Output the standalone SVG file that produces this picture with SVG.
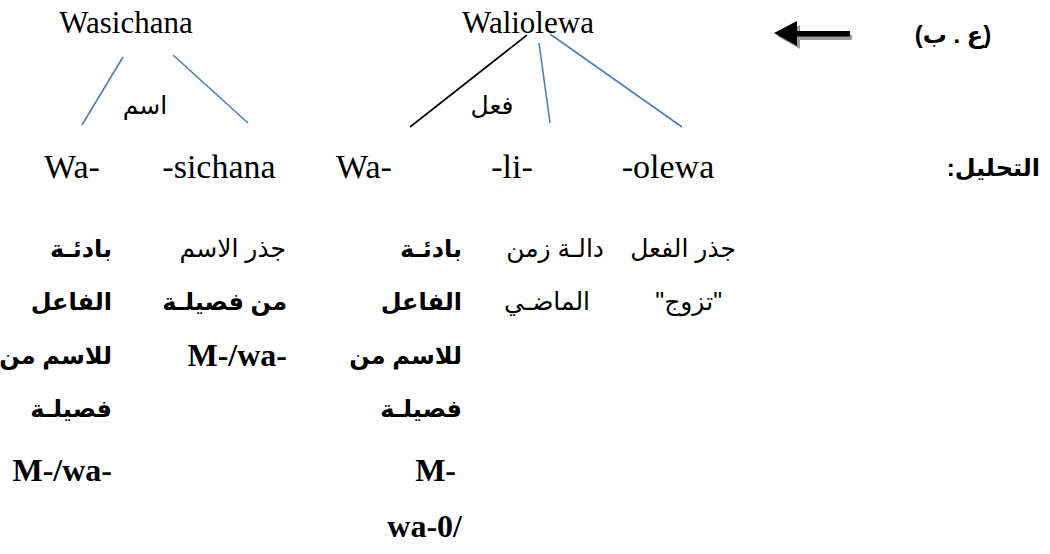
<svg xmlns="http://www.w3.org/2000/svg" width="1050" height="554" viewBox="0 0 1050 554">
<style>
.lat{font-family:"Liberation Serif","Times New Roman",serif;font-size:31px;fill:#000}
.mor{font-family:"Liberation Serif","Times New Roman",serif;font-size:34px;fill:#000}
.latb{font-family:"Liberation Serif","Times New Roman",serif;font-size:32px;font-weight:bold;fill:#000}
.ar{font-family:"Liberation Sans","DejaVu Sans",sans-serif;font-size:25px;fill:#000}
.arb{font-family:"Liberation Sans","DejaVu Sans",sans-serif;font-size:24px;font-weight:bold;fill:#000}
.blue{stroke:#4a7ebb;stroke-width:1.6;fill:none}
.blk{stroke:#000;stroke-width:1.6;fill:none}
</style>
<g id="top-words">
<text class="lat" x="126" y="33" text-anchor="middle">Wasichana</text>
<text class="lat" x="528" y="33" text-anchor="middle">Waliolewa</text>
</g>
<g id="arrow">
<path d="M852,35 L800,35 L800,25 L777,36 L800,49 L800,40 L852,40 Z" fill="#9a9a9a"/>
<path d="M850,31 L797,31 L797,21 L774,33 L797,46 L797,36.5 L850,36.5 Z" fill="#000"/>
</g>
<g id="label-source">
<text class="arb" x="953" y="43" text-anchor="middle" direction="ltr" unicode-bidi="bidi-override">(ب . ع)</text>
</g>
<g id="connectors">
<line class="blue" x1="123" y1="57" x2="82" y2="125"/>
<line class="blue" x1="173" y1="55" x2="248" y2="123"/>
<line class="blk" x1="527" y1="35" x2="410" y2="127"/>
<line class="blue" x1="539" y1="43" x2="550" y2="123"/>
<line class="blue" x1="550" y1="34" x2="682" y2="127"/>
</g>
<g id="cat-labels">
<text class="ar" x="145" y="114" text-anchor="middle">اسم</text>
<text class="ar" x="492" y="114" text-anchor="middle">فعل</text>
</g>
<g id="morphemes">
<text class="mor" x="72" y="178" text-anchor="middle">Wa-</text>
<text class="mor" x="219" y="178" text-anchor="middle">-sichana</text>
<text class="mor" x="364" y="178" text-anchor="middle">Wa-</text>
<text class="mor" x="512" y="178" text-anchor="middle">-li-</text>
<text class="mor" x="668" y="178" text-anchor="middle">-olewa</text>
</g>
<g id="analysis-title">
<text class="arb" x="1040" y="176" text-anchor="end">:التحليل</text>
</g>
<g id="col-olewa">
<text class="ar" x="736" y="257" text-anchor="end">جذر الفعل</text>
<text class="ar" x="722" y="310" text-anchor="end">"تزوج"</text>
</g>
<g id="col-li">
<text class="ar" x="604" y="257" text-anchor="end">دالـة زمن</text>
<text class="ar" x="590" y="310" text-anchor="end">الماضـي</text>
</g>
<g id="col-wa2">
<text class="arb" x="462" y="257" text-anchor="end">بادئـة</text>
<text class="arb" x="462" y="310" text-anchor="end">الفاعل</text>
<text class="arb" x="462" y="364" text-anchor="end">للاسم من</text>
<text class="arb" x="462" y="417" text-anchor="end">فصيلـة</text>
<text class="latb" x="456" y="481" text-anchor="end">M-</text>
<text class="latb" x="462" y="537" text-anchor="end">wa-0/</text>
</g>
<g id="col-sichana">
<text class="ar" x="286" y="257" text-anchor="end">جذر الاسم</text>
<text class="arb" x="287" y="310" text-anchor="end">من فصيلـة</text>
<text class="latb" x="287" y="366" text-anchor="end">M-/wa-</text>
</g>
<g id="col-wa1">
<text class="arb" x="112" y="257" text-anchor="end">بادئـة</text>
<text class="arb" x="112" y="310" text-anchor="end">الفاعل</text>
<text class="arb" x="112" y="364" text-anchor="end">للاسم من</text>
<text class="arb" x="112" y="417" text-anchor="end">فصيلـة</text>
<text class="latb" x="112" y="481" text-anchor="end">M-/wa-</text>
</g>
</svg>
